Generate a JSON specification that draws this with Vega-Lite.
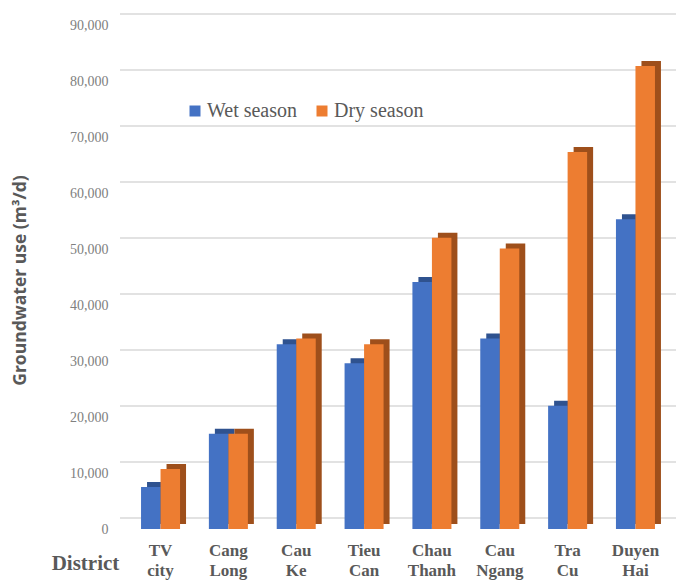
{
  "$schema": "https://vega.github.io/schema/vega-lite/v6.json",
  "width": 556,
  "height": 504,
  "autosize": "none",
  "padding": {"left": 120, "top": 25, "right": 0, "bottom": 57},
  "background": "white",
  "config": {"view": {"stroke": null}},
  "datasets": {
    "use": [
      {"district": "TV city", "season": "Wet season", "value": 7500},
      {"district": "TV city", "season": "Dry season", "value": 10700},
      {"district": "Cang Long", "season": "Wet season", "value": 17000},
      {"district": "Cang Long", "season": "Dry season", "value": 17000},
      {"district": "Cau Ke", "season": "Wet season", "value": 33000},
      {"district": "Cau Ke", "season": "Dry season", "value": 34000},
      {"district": "Tieu Can", "season": "Wet season", "value": 29600},
      {"district": "Tieu Can", "season": "Dry season", "value": 33000},
      {"district": "Chau Thanh", "season": "Wet season", "value": 44100},
      {"district": "Chau Thanh", "season": "Dry season", "value": 52000},
      {"district": "Cau Ngang", "season": "Wet season", "value": 34000},
      {"district": "Cau Ngang", "season": "Dry season", "value": 50100},
      {"district": "Tra Cu", "season": "Wet season", "value": 22000},
      {"district": "Tra Cu", "season": "Dry season", "value": 67300},
      {"district": "Duyen Hai", "season": "Wet season", "value": 55300},
      {"district": "Duyen Hai", "season": "Dry season", "value": 82700}
    ],
    "grid": [
      {"value": 0}, {"value": 10000}, {"value": 20000}, {"value": 30000}, {"value": 40000},
      {"value": 50000}, {"value": 60000}, {"value": 70000}, {"value": 80000}, {"value": 90000}
    ]
  },
  "resolve": {"scale": {"color": "independent", "xOffset": "independent"}},
  "layer": [
    {
      "data": {"name": "grid"},
      "mark": {"type": "rule", "color": "#d9d9d9", "strokeWidth": 1.5, "yOffset": -11},
      "encoding": {
        "y": {"field": "value", "type": "quantitative", "scale": {"domain": [0, 90000]},
              "axis": {"values": [0, 10000, 20000, 30000, 40000, 50000, 60000, 70000, 80000, 90000],
                       "format": ",d", "grid": false, "domain": false, "ticks": false,
                       "labelFont": "Liberation Serif", "labelFontSize": 14, "labelColor": "#808080",
                       "labelPadding": 12,
                       "title": "Groundwater use (m³/d)", "titleFont": "Open Sans", "titleFontWeight": "bold",
                       "titleFontSize": 17.5, "titleColor": "#595959", "titleX": -100, "titleY": 255,
                       "titleAngle": -90, "titleAlign": "center", "titleBaseline": "middle"}}
      }
    },
    {
      "data": {"name": "use"},
      "mark": {"type": "bar", "yOffset": -5},
      "encoding": {
        "x": {"field": "district", "type": "nominal", "sort": null,
              "scale": {"paddingInner": 0.425, "paddingOuter": 0.31},
              "axis": {"title": "District", "labelExpr": "split(datum.label, ' ')", "labelAngle": 0,
                       "domain": false, "ticks": false,
                       "labelFont": "Liberation Serif", "labelFontWeight": "bold", "labelFontSize": 17,
                       "labelColor": "#595959", "labelPadding": 13, "labelLineHeight": 20,
                       "titleFont": "Liberation Serif", "titleFontWeight": "bold", "titleFontSize": 21,
                       "titleColor": "#595959", "titleX": -35, "titleY": 34, "titleAlign": "center",
                       "titleBaseline": "middle", "titleAngle": 0}},
        "xOffset": {"field": "season", "type": "nominal", "sort": ["Wet season", "Dry season"],
                    "scale": {"range": [6, 45]}},
        "y": {"field": "value", "type": "quantitative", "scale": {"domain": [0, 90000]},
              "axis": {"values": [0, 10000, 20000, 30000, 40000, 50000, 60000, 70000, 80000, 90000],
                       "format": ",d", "grid": false, "domain": false, "ticks": false,
                       "labelFont": "Liberation Serif", "labelFontSize": 14, "labelColor": "#808080",
                       "labelPadding": 12,
                       "title": "Groundwater use (m³/d)", "titleFont": "Open Sans", "titleFontWeight": "bold",
                       "titleFontSize": 17.5, "titleColor": "#595959", "titleX": -100, "titleY": 255,
                       "titleAngle": -90, "titleAlign": "center", "titleBaseline": "middle"}},
        "color": {"field": "season", "type": "nominal",
                  "scale": {"domain": ["Wet season", "Dry season"], "range": ["#2F528F", "#9E4F1B"]},
                  "legend": null}
      }
    },
    {
      "data": {"name": "use"},
      "mark": {"type": "bar"},
      "encoding": {
        "x": {"field": "district", "type": "nominal", "sort": null,
              "scale": {"paddingInner": 0.425, "paddingOuter": 0.31},
              "axis": {"title": "District", "labelExpr": "split(datum.label, ' ')", "labelAngle": 0,
                       "domain": false, "ticks": false,
                       "labelFont": "Liberation Serif", "labelFontWeight": "bold", "labelFontSize": 17,
                       "labelColor": "#595959", "labelPadding": 13, "labelLineHeight": 20,
                       "titleFont": "Liberation Serif", "titleFontWeight": "bold", "titleFontSize": 21,
                       "titleColor": "#595959", "titleX": -35, "titleY": 34, "titleAlign": "center",
                       "titleBaseline": "middle", "titleAngle": 0}},
        "xOffset": {"field": "season", "type": "nominal", "sort": ["Wet season", "Dry season"]},
        "y": {"field": "value", "type": "quantitative", "scale": {"domain": [0, 90000]},
              "axis": {"values": [0, 10000, 20000, 30000, 40000, 50000, 60000, 70000, 80000, 90000],
                       "format": ",d", "grid": false, "domain": false, "ticks": false,
                       "labelFont": "Liberation Serif", "labelFontSize": 14, "labelColor": "#808080",
                       "labelPadding": 12,
                       "title": "Groundwater use (m³/d)", "titleFont": "Open Sans", "titleFontWeight": "bold",
                       "titleFontSize": 17.5, "titleColor": "#595959", "titleX": -100, "titleY": 255,
                       "titleAngle": -90, "titleAlign": "center", "titleBaseline": "middle"}},
        "color": {"field": "season", "type": "nominal",
                  "scale": {"domain": ["Wet season", "Dry season"], "range": ["#4472C4", "#ED7D31"]},
                  "legend": {"title": null, "orient": "none", "legendX": 65, "legendY": 76,
                             "direction": "horizontal", "symbolType": "square", "symbolSize": 121,
                             "symbolStrokeWidth": 0, "labelFont": "Liberation Serif", "labelFontSize": 20,
                             "labelColor": "#595959", "labelOffset": 2, "columnPadding": 14}}
      }
    }
  ]
}
